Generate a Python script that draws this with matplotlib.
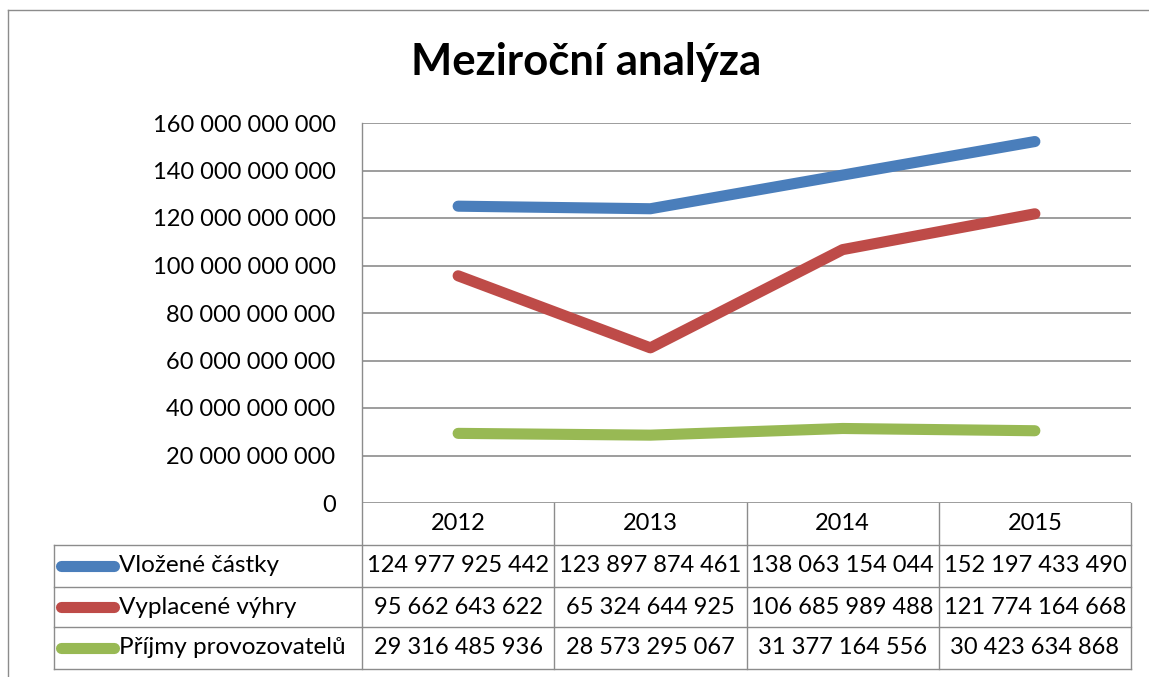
import matplotlib
matplotlib.use("Agg")
import matplotlib.pyplot as plt
from matplotlib.lines import Line2D

categories = ["2012", "2013", "2014", "2015"]
series_names = ["Vložené částky", "Vyplacené výhry", "Příjmy provozovatelů"]
vlozene = [124977925442, 123897874461, 138063154044, 152197433490]
vyplacene = [95662643622, 65324644925, 106685989488, 121774164668]
prijmy = [29316485936, 28573295067, 31377164556, 30423634868]
y_ticks = [0, 20e9, 40e9, 60e9, 80e9, 100e9, 120e9, 140e9, 160e9]
title = "Meziroční analýza"

colors = ["#4A7EBB", "#BE4B48", "#98B954"]
grid_c = "#8C8C8C"
W, H = 1149, 677
FONT = "Lato"
FS = 17

fig = plt.figure(figsize=(W / 100, H / 100), dpi=100)

def fx(x):
    return x / W

def fy(y):
    return 1 - y / H

def hline(x0, x1, y, **kw):
    fig.add_artist(Line2D([fx(x0), fx(x1)], [fy(y), fy(y)], transform=fig.transFigure,
                          color=kw.get("color", grid_c), lw=kw.get("lw", 1.0)))

def vline(x, y0, y1, **kw):
    fig.add_artist(Line2D([fx(x), fx(x)], [fy(y0), fy(y1)], transform=fig.transFigure,
                          color=kw.get("color", grid_c), lw=kw.get("lw", 1.0)))

L, R, T, B = 362, 1131, 123, 503
ax = fig.add_axes([fx(L), fy(B), (R - L) / W, (B - T) / H])
ax.set_xlim(-0.5, len(categories) - 0.5)
ax.set_ylim(0, 160e9)
for s in ax.spines.values():
    s.set_visible(False)
ax.set_yticks(y_ticks)
ax.set_yticklabels([f"{int(v):,}".replace(",", " ") for v in y_ticks], fontsize=FS, family=FONT)
ax.tick_params(axis="y", length=0, pad=19)
ax.set_xticks([])
ax.yaxis.grid(True, color=grid_c, lw=1.2)
ax.set_axisbelow(True)

xs = list(range(len(categories)))
for vals, c in zip([vlozene, vyplacene, prijmy], colors):
    ax.plot(xs, vals, color=c, lw=8, solid_capstyle="round", solid_joinstyle="round", zorder=3)

# outer frame
hline(8, W, 10)
vline(8, 10, H)

# title
fig.text(fx(586), fy(62), title, ha="center", va="center", fontsize=31.5, fontweight="bold", family=FONT)

# table
rows_y = [503, 545, 587, 627, 669]
col_x = [L + (R - L) * i / len(categories) for i in range(len(categories) + 1)]
TL = 54
vline(L, T, rows_y[-1])
for x in col_x[1:]:
    vline(x, rows_y[0], rows_y[-1])
vline(TL, rows_y[1], rows_y[-1])
for y in rows_y[1:]:
    hline(TL, R, y)

# header row
for i, cat in enumerate(categories):
    fig.text(fx((col_x[i] + col_x[i + 1]) / 2), fy((rows_y[0] + rows_y[1]) / 2), cat,
             ha="center", va="center", fontsize=FS, family=FONT)

for r, (name, vals, c) in enumerate(zip(series_names, [vlozene, vyplacene, prijmy], colors)):
    yc = (rows_y[r + 1] + rows_y[r + 2]) / 2
    fig.add_artist(Line2D([fx(61), fx(114)], [fy(yc), fy(yc)], transform=fig.transFigure,
                          color=c, lw=8, solid_capstyle="round"))
    fig.text(fx(119), fy(yc), name, ha="left", va="center", fontsize=FS + 0.5, family=FONT)
    for i, v in enumerate(vals):
        fig.text(fx((col_x[i] + col_x[i + 1]) / 2), fy(yc), f"{v:,}".replace(",", " "),
                 ha="center", va="center", fontsize=FS, family=FONT)

fig.savefig("out.png", dpi=100)
